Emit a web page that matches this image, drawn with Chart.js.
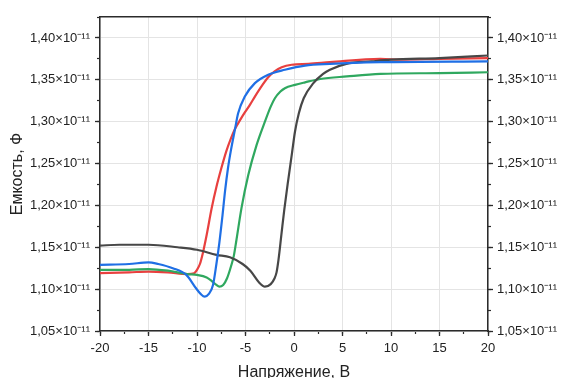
<!DOCTYPE html>
<html><head><meta charset="utf-8">
<script src="https://cdn.jsdelivr.net/npm/chart.js@4/dist/chart.umd.min.js"></script>
<style>html,body{margin:0;padding:0;background:#fff}</style>
</head><body>
<canvas id="c" width="561" height="378"></canvas>
<script>
// ---- data (capacitance in units of 1e-11 F) ----
const xTickValues = [-20,-15,-10,-5,0,5,10,15,20];
const xTickLabels = ['-20','-15','-10','-5','0','5','10','15','20'];
const yTickValues = [1.05,1.10,1.15,1.20,1.25,1.30,1.35,1.40];
const yTickLabels = ['1,05×10⁻¹¹','1,10×10⁻¹¹','1,15×10⁻¹¹','1,20×10⁻¹¹','1,25×10⁻¹¹','1,30×10⁻¹¹','1,35×10⁻¹¹','1,40×10⁻¹¹'];

const blackV = [-20,-18,-15,-12,-10,-8,-6.6,-5.3,-4.5,-3.6,-3.0,-2.4,-2.0,-1.8,-1.6,-1.3,-1.0,-0.6,-0.2,0.1,0.5,1.0,2.0,3.0,3.7,5.4,8,10,15,20];
const blackC = [1.152,1.153,1.153,1.150,1.147,1.141,1.138,1.130,1.122,1.108,1.103,1.106,1.113,1.120,1.135,1.165,1.195,1.230,1.263,1.288,1.310,1.328,1.346,1.357,1.362,1.369,1.372,1.374,1.376,1.379];

const redV = [-20,-17,-15,-13,-11,-10.3,-10.0,-9.7,-9.4,-9.0,-8.5,-8.0,-7.5,-7.0,-6.5,-6.1,-5.5,-5.07,-4.5,-4.03,-3.3,-2.66,-2.0,-1.27,-0.24,1.5,3.7,8.9,11,15,20];
const redC = [1.119,1.120,1.121,1.120,1.118,1.119,1.123,1.130,1.143,1.165,1.196,1.222,1.244,1.264,1.280,1.291,1.303,1.311,1.321,1.330,1.343,1.353,1.360,1.365,1.368,1.369,1.371,1.375,1.374,1.375,1.376];

const blueV = [-20,-17,-15,-14,-12.5,-11.1,-10.1,-9.6,-9.2,-8.8,-8.35,-8.0,-7.7,-7.4,-7.1,-6.8,-6.5,-6.1,-5.76,-5.07,-4.03,-2.66,-0.94,1.14,3.7,8.9,20];
const blueC = [1.129,1.130,1.132,1.130,1.125,1.117,1.101,1.094,1.091,1.094,1.105,1.130,1.155,1.185,1.218,1.245,1.266,1.290,1.310,1.330,1.346,1.356,1.362,1.367,1.369,1.371,1.372];

const greenV = [-20,-17,-15,-13,-11,-10,-9,-8.5,-8.0,-7.7,-7.3,-6.9,-6.5,-6.2,-5.93,-5.41,-4.72,-3.86,-3.0,-2.4,-1.97,-1.4,-0.94,0.1,1.14,2.7,5.45,8.9,15,20];
const greenC = [1.123,1.123,1.124,1.122,1.118,1.117,1.114,1.110,1.105,1.103,1.105,1.113,1.127,1.140,1.159,1.197,1.236,1.272,1.300,1.318,1.328,1.336,1.340,1.344,1.347,1.351,1.354,1.357,1.358,1.359];

const seriesNames = ['black','red','blue','green'];
const seriesColors = ['#474747','#e8403f','#1f6fe5','#2fa85f'];

const pts = (V,C) => V.map((v,i)=>({x:v,y:C[i]}));

const AX = '#2b2b2b';
const GRID = '#e4e4e4';
const FONT = "'Liberation Sans', Arial, sans-serif";

function ds(label, V, C, color, order){
  return {label, data: pts(V,C), borderColor: color, backgroundColor: color,
    borderWidth: 2.2, pointRadius: 0, cubicInterpolationMode: 'monotone', fill: false, order};
}

new Chart(document.getElementById('c'), {
  type: 'line',
  data: { datasets: [
    ds(seriesNames[1], redV, redC, seriesColors[1], 3),
    ds(seriesNames[3], greenV, greenC, seriesColors[3], 2),
    ds(seriesNames[0], blackV, blackC, seriesColors[0], 1),
    ds(seriesNames[2], blueV, blueC, seriesColors[2], 0)
  ]},
  options: {
    responsive: false, animation: false, events: [],
    layout: { padding: { top: 17, left: 0, right: 0, bottom: 0 } },
    plugins: { legend: { display: false }, tooltip: { enabled: false } },
    scales: {
      x: {
        type: 'linear', position: 'bottom', min: -20, max: 20, weight: 1,
        afterBuildTicks: s => { s.ticks = xTickValues.map(v => ({value: v})); },
        afterFit: s => { s.height = 47; },
        ticks: { callback: (v, i) => xTickLabels[i], color: '#222', font: { family: FONT, size: 13 }, padding: 5, maxRotation: 0, autoSkip: false },
        grid: { color: GRID, lineWidth: 1, tickLength: 5, tickColor: AX, tickWidth: 1.3 },
        border: { color: AX, width: 1.5 },
        title: { display: true, text: 'Напряжение, В', color: '#222', font: { family: FONT, size: 16 }, padding: { top: 0, bottom: -4 } }
      },
      xMinor: {
        type: 'linear', position: 'bottom', min: -20, max: 20, weight: 0,
        ticks: { stepSize: 2.5, display: false }, afterFit: s => { s.height = 0; },
        grid: { drawOnChartArea: false, tickLength: 3, tickColor: AX, tickWidth: 1.2 },
        border: { display: false }
      },
      xTop: {
        type: 'linear', position: 'top', min: -20, max: 20,
        ticks: { display: false }, afterFit: s => { s.height = 0; },
        grid: { drawOnChartArea: false, drawTicks: false },
        border: { color: AX, width: 1.5 }
      },
      y: {
        type: 'linear', position: 'left', min: 1.05, max: 1.425, weight: 1,
        afterBuildTicks: s => { s.ticks = yTickValues.map(v => ({value: v})); },
        afterFit: s => { s.width = 100; },
        ticks: { callback: (v, i) => yTickLabels[i], color: '#222', font: { family: FONT, size: 13 }, padding: 5 },
        grid: { color: GRID, lineWidth: 1, tickLength: 5, tickColor: AX, tickWidth: 1.3 },
        border: { color: AX, width: 1.5 },
        title: { display: true, text: 'Емкость, Ф', color: '#222', font: { family: FONT, size: 16 }, padding: { top: 8, bottom: 0 } }
      },
      yMinor: {
        type: 'linear', position: 'left', min: 1.05, max: 1.425, weight: 0,
        ticks: { stepSize: 0.025, display: false }, afterFit: s => { s.width = 0; },
        grid: { drawOnChartArea: false, tickLength: 3, tickColor: AX, tickWidth: 1.2 },
        border: { display: false }
      },
      y2: {
        type: 'linear', position: 'right', min: 1.05, max: 1.425, weight: 1,
        afterBuildTicks: s => { s.ticks = yTickValues.map(v => ({value: v})); },
        afterFit: s => { s.width = 73; },
        ticks: { callback: (v, i) => yTickLabels[i], color: '#222', font: { family: FONT, size: 13 }, padding: 4 },
        grid: { drawOnChartArea: false, tickLength: 5, tickColor: AX, tickWidth: 1.3 },
        border: { color: AX, width: 1.5 }
      },
      y2Minor: {
        type: 'linear', position: 'right', min: 1.05, max: 1.425, weight: 0,
        ticks: { stepSize: 0.025, display: false }, afterFit: s => { s.width = 0; },
        grid: { drawOnChartArea: false, tickLength: 3, tickColor: AX, tickWidth: 1.2 },
        border: { display: false }
      }
    }
  }
});
</script>
</body></html>
